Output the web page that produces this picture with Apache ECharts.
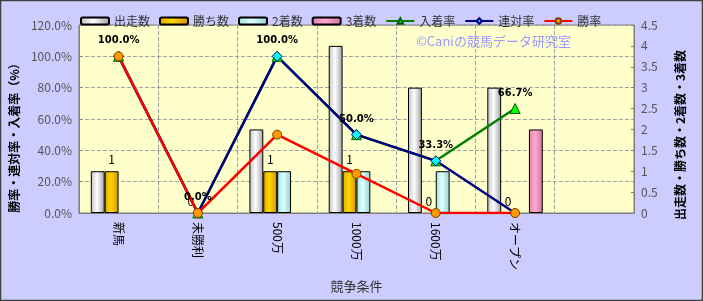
<!DOCTYPE html>
<html><head><meta charset="utf-8">
<script src="https://cdn.jsdelivr.net/npm/echarts@6/dist/echarts.min.js"></script>
<style>html,body{margin:0;padding:0;background:#CCCCFF}#c{width:703px;height:301px}</style>
</head><body><div id="c"></div>
<script>
const categories = ['新馬','未勝利','500万','1000万','1600万','オープン',''];
const starts  = [1,0,2,4,3,3,null];
const wins    = [1,0,1,1,0,0,null];
const seconds = [0,0,1,1,1,0,null];
const thirds  = [0,0,0,0,0,2,null];
const placeRate = [100,0,100,50,33.3,66.7,null];
const rentaiRate = [100,0,100,50,33.3,0,null];
const winRate = [100,0,50,25,0,0,null];

const FONT = '"Noto Sans CJK JP", sans-serif';
function grad(c0,c1,c2){return {type:'linear',x:0,y:0,x2:1,y2:0,colorStops:[{offset:0,color:c0},{offset:0.45,color:c1},{offset:1,color:c2}]};}
// zero-height bars are not outlined in the reference
function barData(arr){return arr.map(v=>v===0?{value:v,itemStyle:{borderWidth:0}}:v);}
const chart = echarts.init(document.getElementById('c'));
const barBase = {type:'bar', yAxisIndex:1, barGap:'0%', barCategoryGap:'30%'};
chart.setOption({
  animation:false,
  backgroundColor:'#CCCCFF',
  textStyle:{fontFamily:FONT},
  graphic:[
    {type:'rect',shape:{x:0.5,y:0.5,width:702,height:300},style:{fill:'none',stroke:'#404040',lineWidth:1.5},z:100},
    {type:'text',left:416,top:35,style:{text:'©Caniの競馬データ研究室',fill:'#9999FF',font:'13px '+FONT},z:1}
  ],
  legend:{
    left:75, top:10, itemGap:9, itemWidth:28, itemHeight:7,
    textStyle:{fontSize:12,color:'#333',fontFamily:FONT},
    data:[
      {name:'出走数',icon:'roundRect'},{name:'勝ち数',icon:'roundRect'},{name:'2着数',icon:'roundRect'},{name:'3着数',icon:'roundRect'},
      {name:'入着率'},{name:'連対率'},{name:'勝率'}
    ]
  },
  grid:{left:77,right:69,top:25,bottom:88,show:true,backgroundColor:'#FFFFCC',borderColor:'#808080',borderWidth:1},
  xAxis:{
    type:'category', data:categories,
    name:'競争条件', nameLocation:'middle', nameGap:67,
    nameTextStyle:{fontSize:13,color:'#333',fontFamily:FONT},
    axisLine:{lineStyle:{color:'#808080'}},
    axisTick:{show:false},
    axisLabel:{rotate:-90,margin:9,fontSize:12,color:'#000',fontFamily:FONT},
    splitLine:{show:true,lineStyle:{type:'dashed',color:'#A0A0A0'}}
  },
  yAxis:[
    {type:'value',min:0,max:120,interval:20,
     name:'勝率・連対率・入着率（%）',nameLocation:'middle',nameGap:58,nameRotate:90,
     nameTextStyle:{fontSize:12,color:'#000',fontWeight:'bold',fontFamily:FONT,padding:[0,32,0,0]},
     axisLine:{show:true,lineStyle:{color:'#808080'}},
     axisTick:{show:true,inside:true,length:3,lineStyle:{color:'#808080'}},
     axisLabel:{formatter:v=>v.toFixed(1)+'%',fontSize:12,color:'#555',margin:7,fontFamily:FONT},
     splitLine:{show:true,lineStyle:{type:'dashed',color:'#A0A0A0'}}},
    {type:'value',min:0,max:4.5,interval:0.5,position:'right',
     name:'出走数・勝ち数・2着数・3着数',nameLocation:'middle',nameGap:40,nameRotate:90,
     nameTextStyle:{fontSize:12,color:'#000',fontWeight:'bold',fontFamily:FONT,padding:[0,32,0,0]},
     axisLine:{show:true,lineStyle:{color:'#808080'}},
     axisTick:{show:true,inside:true,length:3,lineStyle:{color:'#808080'}},
     axisLabel:{fontSize:12,color:'#555',margin:7,fontFamily:FONT},
     splitLine:{show:false}}
  ],
  series:[
    Object.assign({},barBase,{name:'出走数',data:barData(starts),itemStyle:{color:grad('#C0C0C0','#FFFFFF','#A0A0A0'),borderColor:'#000',borderWidth:1}}),
    Object.assign({},barBase,{name:'勝ち数',data:barData(wins),itemStyle:{color:grad('#E0A800','#FFD700','#D09000'),borderColor:'#000',borderWidth:1},
      label:{show:true,position:'top',distance:6,fontSize:12,color:'#000',fontFamily:FONT}}),
    Object.assign({},barBase,{name:'2着数',data:barData(seconds),itemStyle:{color:grad('#A0E0E0','#E0FFFF','#90D0D0'),borderColor:'#000',borderWidth:1}}),
    Object.assign({},barBase,{name:'3着数',data:barData(thirds),itemStyle:{color:grad('#E080B0','#FFAAD0','#D070A0'),borderColor:'#000',borderWidth:1}}),
    {name:'入着率',type:'line',yAxisIndex:0,data:placeRate,symbol:'triangle',symbolSize:10,
     lineStyle:{color:'#008000',width:2.5},itemStyle:{color:'#00FF00',borderColor:'#006000',borderWidth:1},
     label:{show:true,position:'top',distance:5,formatter:p=>p.value.toFixed(1)+'%',fontSize:10,fontWeight:'bold',color:'#000',fontFamily:'"DejaVu Sans", sans-serif'}},
    {name:'連対率',type:'line',yAxisIndex:0,data:rentaiRate,symbol:'diamond',symbolSize:10,
     lineStyle:{color:'#000080',width:2.5},itemStyle:{color:'#00FFFF',borderColor:'#000080',borderWidth:1}},
    {name:'勝率',type:'line',yAxisIndex:0,data:winRate,symbol:'circle',symbolSize:9,
     lineStyle:{color:'#FF0000',width:2.5},itemStyle:{color:'#FF9900',borderColor:'#804000',borderWidth:1}}
  ]
});
</script></body></html>
